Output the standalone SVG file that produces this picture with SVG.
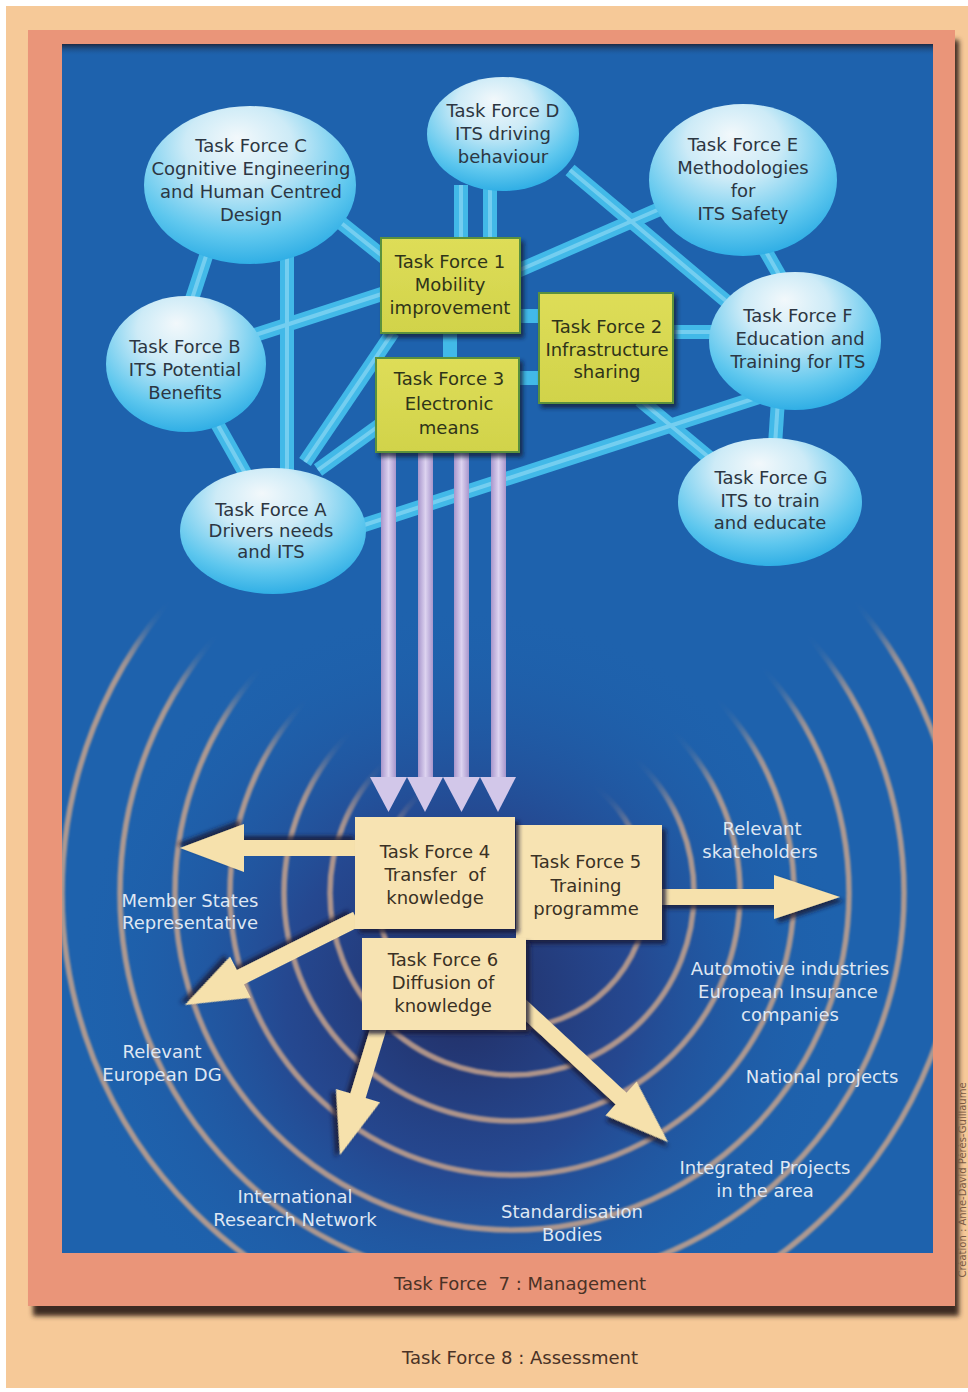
<svg xmlns="http://www.w3.org/2000/svg" width="968" height="1392" viewBox="0 0 968 1392">
<style>
  text{font-family:"DejaVu Sans","Liberation Sans",sans-serif;font-size:18px;text-anchor:middle}
  .dk{fill:#2c3642}
  .yk{fill:#2f3419}
  .ck{fill:#3a3124}
  .lbl{fill:#dfe7f3}
  .ft{fill:#4a3226}
  .tube{stroke:#42b9e8;stroke-width:14;fill:none}
  .hi{stroke:#8ad8f4;stroke-width:4;fill:none;opacity:.7}
  .bubble{fill:url(#bubble)}
  .ybox{fill:url(#ygrad);stroke:#5a913c;stroke-width:2;filter:url(#shadow)}
  .cbox{fill:#f7e3b2;filter:url(#shadow2)}
  .ring{fill:none;stroke:#c6a38c;stroke-width:5.5}
  .shaft{fill:url(#lavg)}
  .lhead{fill:#d2c7e9}
  .cream{fill:#f6e1ac;filter:url(#shadow2)}
</style>
<defs>
  <radialGradient id="bubble" cx="0.46" cy="0.32" r="0.72" fx="0.44" fy="0.2">
    <stop offset="0" stop-color="#f2f8fb"/>
    <stop offset="0.35" stop-color="#cdebf7"/>
    <stop offset="0.75" stop-color="#5ec7ee"/>
    <stop offset="1" stop-color="#26a9e3"/>
  </radialGradient>
  <linearGradient id="ygrad" x1="0" y1="0" x2="0" y2="1">
    <stop offset="0" stop-color="#dedd58"/>
    <stop offset="1" stop-color="#d1d34a"/>
  </linearGradient>
  <linearGradient id="lavg" x1="0" y1="0" x2="1" y2="0">
    <stop offset="0" stop-color="#a796cc"/>
    <stop offset="0.5" stop-color="#ddd3f0"/>
    <stop offset="1" stop-color="#a796cc"/>
  </linearGradient>
  <linearGradient id="topband" x1="0" y1="0" x2="0" y2="1">
    <stop offset="0" stop-color="#1b2a44"/>
    <stop offset="1" stop-color="#1e62ad" stop-opacity="0"/>
  </linearGradient>
  <radialGradient id="dark" cx="460" cy="995" r="390" gradientUnits="userSpaceOnUse">
    <stop offset="0" stop-color="#222a5e" stop-opacity="0.95"/>
    <stop offset="0.45" stop-color="#283d84" stop-opacity="0.7"/>
    <stop offset="1" stop-color="#1e62ad" stop-opacity="0"/>
  </radialGradient>
  <filter id="wedgeblur" x="-50%" y="-50%" width="200%" height="200%"><feGaussianBlur stdDeviation="22"/></filter>
  <!-- rings are open at the top: hide an upward wedge from the common centre -->
  <mask id="ringmask" maskUnits="userSpaceOnUse" x="0" y="0" width="968" height="1392">
    <rect x="0" y="0" width="968" height="1392" fill="#fff"/>
    <polygon points="512,905 1384,290 1384,-100 -360,-100 -360,290" fill="#000" filter="url(#wedgeblur)"/>
  </mask>
  <clipPath id="blueclip"><rect x="62" y="44" width="871" height="1209"/></clipPath>
  <filter id="soft" x="-5%" y="-5%" width="110%" height="110%"><feGaussianBlur stdDeviation="1.2"/></filter>
  <filter id="frameshadow" x="-5%" y="-5%" width="110%" height="110%"><feGaussianBlur stdDeviation="2.5"/></filter>
  <filter id="shadow" x="-10%" y="-10%" width="130%" height="130%">
    <feDropShadow dx="3" dy="4" stdDeviation="2" flood-color="#0d1a33" flood-opacity="0.75"/>
  </filter>
  <filter id="shadow2" x="-10%" y="-10%" width="130%" height="130%">
    <feDropShadow dx="4" dy="4" stdDeviation="2" flood-color="#141a36" flood-opacity="0.8"/>
  </filter>
</defs>

<!-- page and frames -->
<rect width="968" height="1392" fill="#ffffff"/>
<rect x="6" y="6" width="962" height="1382" fill="#f6c998"/>
<rect x="33" y="40" width="926" height="1276" fill="#3d2a20" filter="url(#frameshadow)"/>
<rect x="28" y="30" width="927" height="1276" fill="#ea9579"/>
<rect x="62" y="44" width="871" height="1209" fill="#1e62ad"/>
<rect x="62" y="44" width="871" height="12" fill="url(#topband)"/>
<rect x="62" y="44" width="871" height="1209" fill="url(#dark)"/>

<!-- concentric rings -->
<g clip-path="url(#blueclip)">
<g id="rings" mask="url(#ringmask)" filter="url(#soft)" opacity="0.85">
  <circle class="ring" cx="512" cy="893" r="135"/>
  <circle class="ring" cx="512" cy="893" r="182"/>
  <circle class="ring" cx="512" cy="893" r="228"/>
  <circle class="ring" cx="512" cy="893" r="282"/>
  <circle class="ring" cx="512" cy="893" r="337"/>
  <circle class="ring" cx="512" cy="893" r="392"/>
  <circle class="ring" cx="512" cy="893" r="450"/>
</g>
</g>

<!-- connectors -->
<g id="connectors">
  <g id="tubes">
    <line class="tube" x1="208" y1="250" x2="190" y2="305"/>
    <line class="tube" x1="287" y1="255" x2="287" y2="480"/>
    <line class="tube" x1="340" y1="222" x2="390" y2="262"/>
    <line class="tube" x1="255" y1="335" x2="385" y2="293"/>
    <line class="tube" x1="215" y1="420" x2="250" y2="482"/>
    <line class="tube" x1="305" y1="462" x2="393" y2="332"/>
    <line class="tube" x1="318" y1="470" x2="380" y2="425"/>
    <line class="tube" x1="358" y1="527" x2="762" y2="396"/>
    <line class="tube" x1="461" y1="185" x2="461" y2="240"/>
    <line class="tube" x1="490" y1="185" x2="490" y2="240"/>
    <line class="tube" x1="570" y1="170" x2="732" y2="306"/>
    <line class="tube" x1="515" y1="272" x2="662" y2="208"/>
    <line class="tube" x1="765" y1="250" x2="785" y2="285"/>
    <line class="tube" x1="670" y1="332" x2="715" y2="332"/>
    <line class="tube" x1="515" y1="316" x2="545" y2="316"/>
    <line class="tube" x1="515" y1="378" x2="545" y2="378"/>
    <line class="tube" x1="450" y1="330" x2="450" y2="362"/>
    <line class="tube" x1="778" y1="400" x2="775" y2="445"/>
    <line class="tube" x1="640" y1="400" x2="712" y2="460"/>
    <g class="hi">
      <line x1="208" y1="250" x2="190" y2="305"/>
      <line x1="287" y1="255" x2="287" y2="480"/>
      <line x1="340" y1="222" x2="390" y2="262"/>
      <line x1="255" y1="335" x2="385" y2="293"/>
      <line x1="215" y1="420" x2="250" y2="482"/>
      <line x1="305" y1="462" x2="393" y2="332"/>
      <line x1="318" y1="470" x2="380" y2="425"/>
      <line x1="358" y1="527" x2="762" y2="396"/>
      <line x1="461" y1="185" x2="461" y2="240"/>
      <line x1="490" y1="185" x2="490" y2="240"/>
      <line x1="570" y1="170" x2="732" y2="306"/>
      <line x1="515" y1="272" x2="662" y2="208"/>
      <line x1="765" y1="250" x2="785" y2="285"/>
      <line x1="670" y1="332" x2="715" y2="332"/>
      <line x1="640" y1="400" x2="712" y2="460"/>
      <line x1="778" y1="400" x2="775" y2="445"/>
    </g>
  </g>
  <g id="flow-arrows">
    <rect class="shaft" x="381" y="450" width="15" height="330"/>
    <rect class="shaft" x="418" y="450" width="15" height="330"/>
    <rect class="shaft" x="454" y="450" width="15" height="330"/>
    <rect class="shaft" x="491" y="450" width="15" height="330"/>
    <polygon class="lhead" points="370,777 407,777 388.5,812"/>
    <polygon class="lhead" points="407,777 443,777 425,812"/>
    <polygon class="lhead" points="443,777 480,777 461.5,812"/>
    <polygon class="lhead" points="480,777 516,777 498,812"/>
  </g>
  <g id="out-arrows">
    <polygon class="cream" transform="translate(180,848) rotate(180)" points="-178,-8 -64,-8 -64,-24 0,0 -64,24 -64,8 -178,8"/>
    <polygon class="cream" transform="translate(185,1005) rotate(153.4)" points="-192,-8 -62,-8 -62,-23 0,0 -62,23 -62,8 -192,8"/>
    <polygon class="cream" transform="translate(840,897) rotate(0)" points="-182,-8 -66,-8 -66,-22 0,0 -66,22 -66,8 -182,8"/>
    <polygon class="cream" transform="translate(340,1155) rotate(106.9)" points="-134,-8 -62,-8 -62,-23 0,0 -62,23 -62,8 -134,8"/>
    <polygon class="cream" transform="translate(668,1142) rotate(42.8)" points="-205,-8 -64,-8 -64,-23 0,0 -64,23 -64,8 -205,8"/>
  </g>
</g>

<!-- bubbles -->
<g id="tf-c"><ellipse class="bubble" cx="250" cy="185" rx="106" ry="79"/>
  <text class="dk" x="251" y="152">Task Force C</text><text class="dk" x="251" y="175">Cognitive Engineering</text><text class="dk" x="251" y="198">and Human Centred</text><text class="dk" x="251" y="221">Design</text></g>
<g id="tf-d"><ellipse class="bubble" cx="503" cy="134" rx="76" ry="57"/>
  <text class="dk" x="503" y="117">Task Force D</text><text class="dk" x="503" y="140">ITS driving</text><text class="dk" x="503" y="163">behaviour</text></g>
<g id="tf-e"><ellipse class="bubble" cx="743" cy="180" rx="94" ry="76"/>
  <text class="dk" x="743" y="151">Task Force E</text><text class="dk" x="743" y="174">Methodologies</text><text class="dk" x="743" y="197">for</text><text class="dk" x="743" y="220">ITS Safety</text></g>
<g id="tf-f"><ellipse class="bubble" cx="795" cy="341" rx="86" ry="69"/>
  <text class="dk" x="798" y="322">Task Force F</text><text class="dk" x="800" y="345">Education and</text><text class="dk" x="798" y="368">Training for ITS</text></g>
<g id="tf-g"><ellipse class="bubble" cx="770" cy="502" rx="92" ry="64"/>
  <text class="dk" x="771" y="484">Task Force G</text><text class="dk" x="770" y="507">ITS to train</text><text class="dk" x="770" y="529">and educate</text></g>
<g id="tf-b"><ellipse class="bubble" cx="186" cy="364" rx="80" ry="68"/>
  <text class="dk" x="185" y="353">Task Force B</text><text class="dk" x="185" y="376">ITS Potential</text><text class="dk" x="185" y="399">Benefits</text></g>
<g id="tf-a"><ellipse class="bubble" cx="273" cy="531" rx="93" ry="63"/>
  <text class="dk" x="271" y="516">Task Force A</text><text class="dk" x="271" y="537">Drivers needs</text><text class="dk" x="271" y="558">and ITS</text></g>

<!-- yellow task boxes -->
<g id="tf-1"><rect class="ybox" x="381" y="238" width="139" height="95"/>
  <text class="yk" x="450" y="268">Task Force 1</text><text class="yk" x="450" y="291">Mobility</text><text class="yk" x="450" y="314">improvement</text></g>
<g id="tf-2"><rect class="ybox" x="539" y="293" width="134" height="110"/>
  <text class="yk" x="607" y="333">Task Force 2</text><text class="yk" x="607" y="356">Infrastructure</text><text class="yk" x="607" y="378">sharing</text></g>
<g id="tf-3"><rect class="ybox" x="376" y="358" width="143" height="94"/>
  <text class="yk" x="449" y="385">Task Force 3</text><text class="yk" x="449" y="410">Electronic</text><text class="yk" x="449" y="434">means</text></g>

<!-- cream task boxes -->
<g id="tf-5"><rect class="cbox" x="516" y="825" width="146" height="115"/>
  <text class="ck" x="586" y="868">Task Force 5</text><text class="ck" x="586" y="892">Training</text><text class="ck" x="586" y="915">programme</text></g>
<g id="tf-6"><rect class="cbox" x="362" y="938" width="164" height="92"/>
  <text class="ck" x="443" y="966">Task Force 6</text><text class="ck" x="443" y="989">Diffusion of</text><text class="ck" x="443" y="1012">knowledge</text></g>
<g id="tf-4"><rect class="cbox" x="355" y="817" width="160" height="112"/>
  <text class="ck" x="435" y="858">Task Force 4</text><text class="ck" x="435" y="881" xml:space="preserve">Transfer  of</text><text class="ck" x="435" y="904">knowledge</text></g>

<!-- audience labels -->
<g id="labels" class="lbl">
  <text class="lbl" x="762" y="835">Relevant</text><text class="lbl" x="760" y="858">skateholders</text>
  <text class="lbl" x="190" y="907">Member States</text><text class="lbl" x="190" y="929">Representative</text>
  <text class="lbl" x="790" y="975">Automotive industries</text><text class="lbl" x="788" y="998">European Insurance</text><text class="lbl" x="790" y="1021">companies</text>
  <text class="lbl" x="162" y="1058">Relevant</text><text class="lbl" x="162" y="1081">European DG</text>
  <text class="lbl" x="822" y="1083">National projects</text>
  <text class="lbl" x="765" y="1174">Integrated Projects</text><text class="lbl" x="765" y="1197">in the area</text>
  <text class="lbl" x="295" y="1203">International</text><text class="lbl" x="295" y="1226">Research Network</text>
  <text class="lbl" x="572" y="1218">Standardisation</text><text class="lbl" x="572" y="1241">Bodies</text>
</g>

<!-- frame captions -->
<g id="tf-7"><text class="ft" x="520" y="1290" xml:space="preserve">Task Force  7 : Management</text></g>
<g id="tf-8"><text class="ft" x="520" y="1364">Task Force 8 : Assessment</text></g>
<text x="0" y="0" transform="translate(966,1180) rotate(-90)" style="font-size:10px;fill:#7a5a44">Création : Anne-David Pérès-Guillaume</text>
</svg>
